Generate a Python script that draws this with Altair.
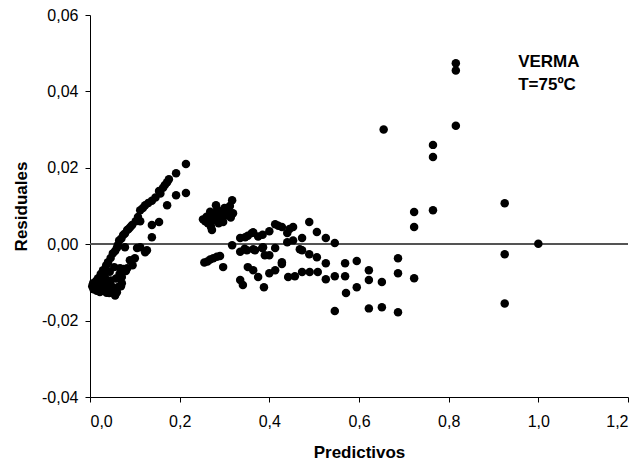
import altair as alt
import pandas as pd

# Predicted values (x) and residuals (y)
pred = [
    # left rising cluster
    0.214, 0.192, 0.172, 0.176, 0.167, 0.163, 0.154, 0.157, 0.146, 0.138, 0.130, 0.123, 0.118, 0.112,
    0.107, 0.102, 0.094, 0.090, 0.086, 0.083, 0.078, 0.074, 0.070, 0.065, 0.062, 0.060, 0.056, 0.051,
    0.046, 0.040, 0.036, 0.029, 0.024, 0.018, 0.014, 0.011, 0.007, 0.005, 0.008, 0.012, 0.015, 0.019,
    0.022, 0.025, 0.028, 0.031, 0.034, 0.037, 0.040, 0.043, 0.046, 0.049, 0.052, 0.056, 0.060, 0.063,
    0.066, 0.069, 0.071, 0.071, 0.075, 0.080, 0.083, 0.089, 0.067, 0.078, 0.095, 0.100, 0.105, 0.112,
    0.123, 0.127, 0.138, 0.138, 0.154, 0.172, 0.192, 0.214, 0.112, 0.020, 0.033, 0.044, 0.054, 0.016,
    0.027, 0.038, 0.048, 0.058,
    # cluster near 0.25-0.32
    0.252, 0.257, 0.260, 0.263, 0.266, 0.270, 0.272, 0.275, 0.278, 0.281, 0.284, 0.287, 0.290, 0.293,
    0.297, 0.300, 0.303, 0.308, 0.312, 0.317, 0.319, 0.314, 0.268, 0.285,
    0.255, 0.262, 0.268, 0.275, 0.283, 0.290, 0.297, 0.317,
    # band 0.33-0.57
    0.335, 0.346, 0.352, 0.361, 0.364, 0.375, 0.385, 0.400, 0.413, 0.420, 0.428, 0.440, 0.445, 0.453,
    0.440, 0.453, 0.473, 0.489, 0.506, 0.526, 0.546,
    0.335, 0.345, 0.350, 0.364, 0.368, 0.386, 0.384, 0.390, 0.400, 0.413, 0.468, 0.473, 0.489, 0.506,
    0.526, 0.428, 0.569,
    0.352, 0.364, 0.375, 0.400, 0.413, 0.428, 0.442, 0.457, 0.473, 0.490, 0.508, 0.526, 0.546, 0.569,
    0.335, 0.341, 0.388,
    # right part
    0.546, 0.571, 0.595, 0.595, 0.622, 0.622, 0.622, 0.651, 0.651, 0.655, 0.687, 0.687, 0.687,
    0.723, 0.723, 0.723, 0.765, 0.765, 0.765, 0.816, 0.816, 0.816, 0.925, 0.925, 0.925, 1.000,
]

resid = [
    0.0210, 0.0186, 0.0162, 0.0170, 0.0155, 0.0148, 0.0139, 0.0133, 0.0122, 0.0114, 0.0108, 0.0102, 0.0095, 0.0089,
    0.0071, 0.0060, 0.0050, 0.0045, 0.0040, 0.0037, 0.0028, 0.0024, 0.0015, 0.0010, -0.0003, -0.0010, -0.0018, -0.0024,
    -0.0036, -0.0047, -0.0056, -0.0068, -0.0078, -0.0089, -0.0096, -0.0107, -0.0102, -0.0110, -0.0118, -0.0115, -0.0122, -0.0108,
    -0.0125, -0.0100, -0.0118, -0.0120, -0.0108, -0.0127, -0.0112, -0.0128, -0.0095, -0.0118, -0.0125, -0.0134, -0.0126, -0.0112,
    -0.0078, -0.0110, -0.0086, -0.0102, -0.0065, -0.0070, -0.0063, -0.0042, -0.0063, -0.0008, -0.0055, -0.0037, -0.0010, -0.0008,
    -0.0021, -0.0016, 0.0050, 0.0018, 0.0058, 0.0102, 0.0128, 0.0134, 0.0060, -0.0098, -0.0085, -0.0072, -0.0060, -0.0112,
    -0.0090, -0.0100, -0.0110, -0.0090,
    0.0065, 0.0060, 0.0072, 0.0055, 0.0068, 0.0045, 0.0037, 0.0080, 0.0062, 0.0102, 0.0090, 0.0055, 0.0070, 0.0085,
    0.0058, 0.0095, 0.0075, 0.0088, 0.0100, 0.0115, 0.0081, 0.0070, 0.0085, 0.0075,
    -0.0048, -0.0045, -0.0040, -0.0037, -0.0033, -0.0031, -0.0060, -0.0003,
    0.0016, 0.0018, 0.0022, 0.0029, 0.0031, 0.0020, 0.0025, 0.0034, 0.0052, 0.0048, 0.0045, 0.0029, 0.0040, 0.0045,
    0.0005, 0.0010, 0.0016, 0.0058, 0.0032, 0.0016, 0.0003,
    -0.0020, -0.0012, -0.0016, -0.0013, -0.0016, -0.0008, -0.0010, -0.0029, -0.0029, -0.0010, -0.0013, -0.0016, -0.0026, -0.0034,
    -0.0050, -0.0047, -0.0050,
    -0.0060, -0.0068, -0.0086, -0.0076, -0.0068, -0.0052, -0.0086, -0.0084, -0.0073, -0.0073, -0.0073, -0.0092, -0.0084, -0.0084,
    -0.0094, -0.0107, -0.0113,
    -0.0175, -0.0128, -0.0044, -0.0113, -0.0068, -0.0094, -0.0168, -0.0099, -0.0165, 0.0300, -0.0037, -0.0076, -0.0178,
    0.0084, 0.0045, -0.0089, 0.0260, 0.0228, 0.0089, 0.0474, 0.0455, 0.0310, 0.0107, -0.0026, -0.0155, 0.0001,
]

x_ticks = [0.0, 0.2, 0.4, 0.6, 0.8, 1.0, 1.2]
y_ticks = [-0.04, -0.02, 0.0, 0.02, 0.04, 0.06]

annot_text = ["VERMA", "T=75ºC"]
annot_x = [0.955, 0.955]
annot_y = [0.0463, 0.0403]

df = pd.DataFrame({"pred": pred, "resid": resid})
ann = pd.DataFrame({"x": annot_x, "y": annot_y, "t": annot_text})

FONT = "Liberation Sans"

x_scale = alt.Scale(domain=[0, 1.2], nice=False, zero=False)
y_scale = alt.Scale(domain=[-0.04, 0.06], nice=False, zero=False)

x_axis = alt.Axis(
    values=x_ticks, title="Predictivos",
    labelExpr="replace(format(datum.value, '.1f'), '.', ',')",
    labelPadding=11, titleY=60, titleBaseline="alphabetic",
)
y_axis = alt.Axis(
    values=y_ticks, title="Residuales",
    labelExpr="(datum.value < -0.000001 ? '-' : '') + replace(format(abs(datum.value), '.2f'), '.', ',')",
    labelPadding=7, titleX=-69, titleY=191, titleBaseline="middle", titleAlign="center", titleAngle=270,
)

zero = alt.Chart(df).mark_rule(color="#555555", strokeWidth=1).encode(y=alt.datum(0, scale=y_scale))

pts = alt.Chart(df).mark_circle(size=72, color="black", opacity=1).encode(
    x=alt.X("pred:Q", scale=x_scale, axis=x_axis),
    y=alt.Y("resid:Q", scale=y_scale, axis=y_axis),
)

txt = alt.Chart(ann).mark_text(
    align="left", baseline="alphabetic", fontWeight="bold", fontSize=17, font=FONT, color="black"
).encode(x=alt.X("x:Q", scale=x_scale), y=alt.Y("y:Q", scale=y_scale), text="t:N")

chart = alt.layer(zero, pts, txt).properties(
    width=538, height=382,
    autosize=alt.AutoSizeParams(type="none"),
    padding={"left": 90, "top": 15, "right": 7, "bottom": 65},
    background="white",
).configure_view(stroke=None).configure_axis(
    grid=False, domainColor="black", tickColor="black", tickSize=5, domainWidth=1, tickWidth=1,
    labelFont=FONT, labelFontSize=16, labelColor="black",
    titleFont=FONT, titleFontSize=17, titleFontWeight="bold", titleColor="black",
)

chart.save("out.html", embed_options={"renderer": "svg", "actions": False})
